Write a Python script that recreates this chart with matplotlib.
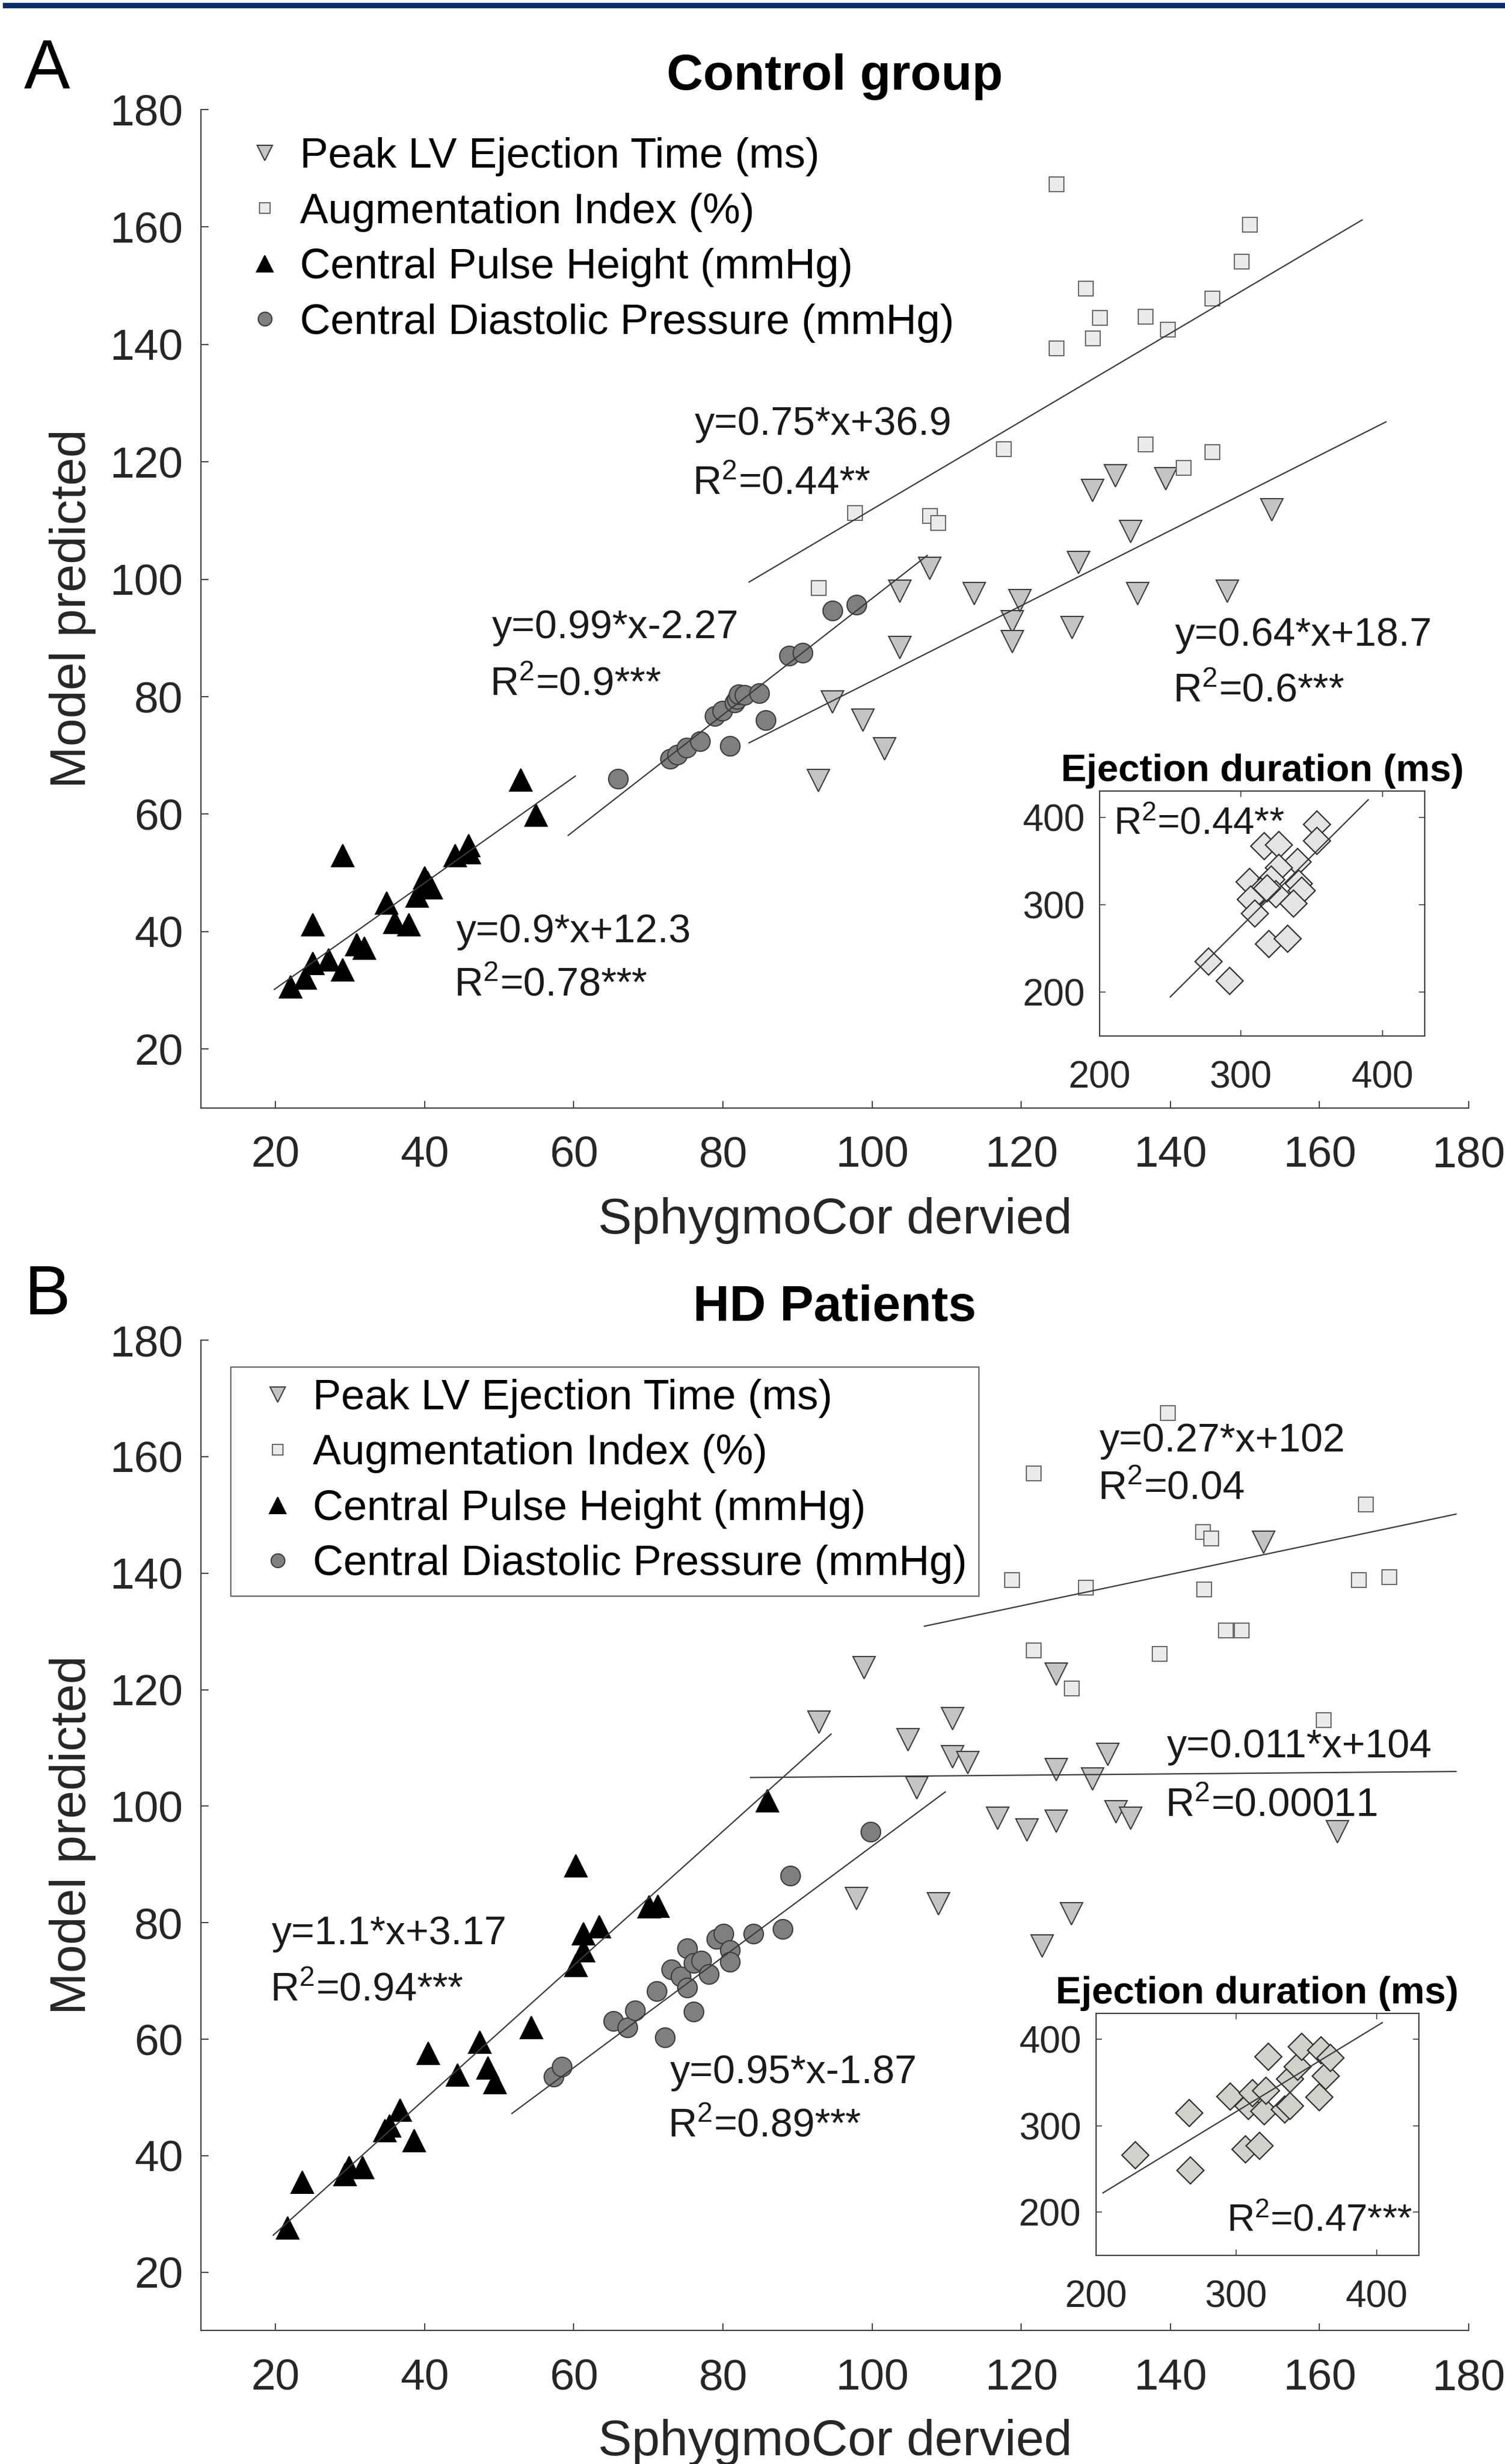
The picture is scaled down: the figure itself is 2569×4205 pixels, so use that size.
import numpy as np
import matplotlib.pyplot as plt
from matplotlib.patches import Rectangle

plt.rcParams['font.family'] = ['Liberation Sans', 'DejaVu Sans']
plt.rcParams['mathtext.fontset'] = 'custom'
plt.rcParams['mathtext.rm'] = 'Liberation Sans'
plt.rcParams['mathtext.it'] = 'Liberation Sans:italic'
plt.rcParams['mathtext.bf'] = 'Liberation Sans:bold'

# ---------------- Panel A : Control group ----------------
A_pulse_x = [22, 24, 25, 27.1, 29, 25, 29, 30.9, 31.9, 34.9, 36, 37.9, 39, 40, 40.9, 40.4, 44.1, 45.9, 46, 52.9, 54.9]
A_pulse_y = [30.6, 32.1, 34.6, 35.2, 33.5, 41.2, 53, 37.8, 37.2, 44.9, 41.6, 41.2, 46.1, 49.2, 47.5, 48.4, 53, 54.7, 53.5, 65.8, 59.8]

A_dia_x = [65.9, 72.9, 73.9, 75.1, 76.9, 78.9, 79.9, 80.9, 81.6, 81.9, 82.1, 82.9, 84.9, 85.7, 88.9, 90.7, 94.7, 97.9]
A_dia_y = [66, 69.4, 70.1, 71.3, 72.4, 76.7, 77.6, 71.6, 79, 79.6, 80.4, 80.3, 80.6, 76, 87, 87.5, 94.7, 95.7]

A_plvet_x = [92.8, 94.7, 98.8, 101.7, 103.7, 103.7, 107.7, 113.7, 118.8, 118.8, 119.8, 126.8, 127.7,
             129.6, 132.6, 134.7, 135.6, 139.4, 147.6, 153.6]
A_plvet_y = [65.7, 79.1, 76.0, 71.1, 88.4, 98.0, 101.8, 97.6, 92.8, 89.4, 96.4, 91.8, 102.8,
             115.1, 117.6, 108.1, 97.6, 117.1, 98.0, 111.8]

A_aix_x = [92.8, 97.7, 107.7, 108.8, 117.6, 124.7, 124.7, 128.6, 129.6, 130.5, 136.6, 136.6, 139.6,
           141.7, 145.6, 145.6, 149.5, 150.6]
A_aix_y = [98.6, 111.3, 110.8, 109.6, 122.2, 167.3, 139.4, 149.5, 141.1, 144.6, 144.8, 123.0, 142.6,
           119.0, 147.8, 121.7, 154.1, 160.4]

# fit lines: pulse, diastolic, PLVET, AIx
A_fit_slope = [0.9, 0.99, 0.64, 0.75]
A_fit_int = [12.3, -2.27, 18.7, 36.9]
A_fit_xmin = [19.85, 59.25, 83.5, 83.5]
A_fit_xmax = [60.2, 107.4, 168.9, 165.7]
A_eq_text = ['y=0.9*x+12.3', 'y=0.99*x-2.27', 'y=0.64*x+18.7', 'y=0.75*x+36.9']
A_r2_text = ['R$^2$=0.78***', 'R$^2$=0.9***', 'R$^2$=0.6***', 'R$^2$=0.44**']
A_eq_pos = [(44.2, 40.0), (49.0, 91.8), (140.6, 90.5), (76.2, 126.4)]
A_r2_pos = [(43.9, 30.9), (48.7, 82.0), (140.3, 80.9), (75.9, 116.3)]

# inset: ejection duration
A_ed_x = [353.6, 353.6, 316.5, 326.8, 340, 326.8, 306, 321.6, 341, 343, 314, 324.7, 307, 337, 310,
          319.6, 333, 277, 292, 318.6]
A_ed_y = [392, 373, 367, 368, 349, 342, 326, 329, 324, 316, 315, 312, 306, 301, 290,
          255, 261, 235, 213, 319]
A_ed_fit = [1.61, -208, 250, 390]
A_ed_r2 = 'R$^2$=0.44**'

# ---------------- Panel B : HD patients ----------------
B_pulse_x = [21.6, 23.6, 29.3, 29.9, 31.7, 34.7, 35.3, 36.7, 38.6, 40.5, 44.4, 47.4, 48.5, 49.4, 54.3,
             60.3, 60.3, 61.3, 61.3, 63.4, 70.1, 71.3, 86.0]
B_pulse_y = [27.6, 35.5, 36.8, 38.0, 38.0, 44.3, 45.1, 47.8, 42.6, 57.6, 53.9, 59.5, 55.1, 52.6, 62.0,
             89.8, 72.7, 75.2, 78.1, 79.3, 82.7, 82.8, 100.9]

B_dia_x = [57.3, 58.4, 65.3, 67.2, 68.2, 71.1, 72.2, 73.1, 74.3, 75.2, 75.2, 76.1, 76.1, 77.1, 78.1,
           79.1, 80.1, 80.9, 80.9, 84.1, 88.0, 89.0, 99.8]
B_dia_y = [53.6, 55.3, 63.1, 62.0, 64.9, 68.3, 60.3, 72.0, 70.8, 75.6, 68.9, 64.7, 73.1, 73.5, 71.2,
           77.2, 78.1, 75.3, 73.3, 78.1, 78.9, 88.1, 95.6]

B_plvet_x = [152.5, 124.7, 110.8, 110.8, 112.8, 106.0, 124.7, 129.6, 131.6, 116.8, 120.8, 124.7, 132.7,
             134.7, 162.4, 108.9, 126.7, 122.8, 98.9, 92.9, 104.8, 97.9]
B_plvet_y = [145.3, 122.7, 115.0, 108.5, 107.5, 103.2, 106.3, 104.7, 108.9, 97.9, 95.9, 97.4, 99.0,
             97.9, 95.6, 83.2, 81.5, 76.0, 123.8, 114.4, 111.4, 84.1]

B_aix_x = [139.6, 121.6, 166.2, 144.3, 145.4, 118.7, 128.6, 144.5, 165.2, 169.3, 147.4, 149.5, 121.6,
           138.5, 126.7, 160.5]
B_aix_y = [167.5, 157.2, 151.8, 147.1, 146.0, 138.9, 137.6, 137.3, 138.9, 139.4, 130.2, 130.2, 126.8,
           126.2, 120.3, 114.8]

B_fit_slope = [1.15, 0.95, 0.011, 0.27]
B_fit_int = [3.7, -1.87, 104, 102]
B_fit_xmin = [19.7, 51.7, 83.7, 107]
B_fit_xmax = [94.5, 109.8, 178.3, 178.3]
B_eq_text = ['y=1.1*x+3.17', 'y=0.95*x-1.87', 'y=0.011*x+104', 'y=0.27*x+102']
B_r2_text = ['R$^2$=0.94***', 'R$^2$=0.89***', 'R$^2$=0.00011', 'R$^2$=0.04']
B_eq_pos = [(19.5, 78.1), (72.9, 54.3), (139.5, 110.2), (130.5, 162.7)]
B_r2_pos = [(19.3, 68.4), (72.6, 45.1), (139.3, 100.1), (130.3, 154.5)]

B_ed_x = [228.2, 266.4, 267.1, 295.8, 306.5, 316.7, 308.8, 311.6, 319.7, 322.7, 321.3, 334.3, 338.2,
          338.2, 343.5, 346.8, 359, 360.2, 363.7, 367.1]
B_ed_y = [266.2, 314.8, 248.1, 333.8, 272.5, 276.6, 322.6, 337.7, 316.6, 379.7, 340.8, 318.7, 322.6,
          353.8, 368.1, 391.4, 333, 387.5, 357.7, 378.4]
B_ed_fit = [0.989, 19.7, 205, 404]
B_ed_r2 = 'R$^2$=0.47***'

labels = ['Peak LV Ejection Time (ms)', 'Augmentation Index (%)',
          'Central Pulse Height (mmHg)', 'Central Diastolic Pressure (mmHg)']

axis_col = '#404040'
line_col = '#3a3a3a'


def main_panel(ax, pulse, dia, plvet, aix, slope, icpt, xmin, xmax, eqs, r2s, eqpos, r2pos, title):
    h1, = ax.plot(plvet[0], plvet[1], ls='none', marker='v', ms=27, mfc='#c4c4c4', mec='#3c3c3c', mew=1.5)
    h2, = ax.plot(aix[0], aix[1], ls='none', marker='s', ms=18, mfc='#ebebeb', mec='#6a6a6a', mew=1.5)
    h3, = ax.plot(pulse[0], pulse[1], ls='none', marker='^', ms=28, mfc='black', mec='black', mew=1.5)
    h4, = ax.plot(dia[0], dia[1], ls='none', marker='o', ms=24, mfc='#7f7f7f', mec='#3c3c3c', mew=1.5)
    for k in range(4):
        xx = np.array([xmin[k], xmax[k]])
        ax.plot(xx, slope[k] * xx + icpt[k], color=line_col, lw=1.6, zorder=5)
        ax.text(eqpos[k][0], eqpos[k][1], eqs[k], fontsize=49, ha='left', va='center', color='#1a1a1a')
        ax.text(r2pos[k][0], r2pos[k][1], r2s[k], fontsize=49, ha='left', va='center', color='#1a1a1a')
    ax.set_xlim(10, 180)
    ax.set_ylim(10, 180)
    ax.set_xticks(np.arange(20, 181, 20))
    ax.set_yticks(np.arange(20, 181, 20))
    for s in ['top', 'right']:
        ax.spines[s].set_visible(False)
    for s in ['left', 'bottom']:
        ax.spines[s].set_color(axis_col)
        ax.spines[s].set_linewidth(1.6)
    ax.tick_params(axis='both', direction='in', length=9, width=1.4, color=axis_col,
                   labelsize=54, labelcolor='#262626')
    ax.tick_params(axis='x', pad=34)
    ax.tick_params(axis='y', pad=22)
    ax.set_xlabel('SphygmoCor dervied', fontsize=62, color='#262626')
    ax.set_ylabel('Model predicted', fontsize=62, color='#262626')
    ax.xaxis.set_label_coords(0.5, -0.113)
    ax.xaxis.label.set_va('center')
    ax.yaxis.set_label_coords(-0.101, 0.5)
    ax.yaxis.label.set_va('center')
    ax.set_title(title, fontsize=62, fontweight='bold', pad=24)
    return [h1, h2, h3, h4]


def inset_panel(ax, x, y, fit, r2, r2xy, face):
    ax.plot(x, y, ls='none', marker='D', ms=23, mfc=face, mec='#303030', mew=1.6)
    xx = np.array([fit[2], fit[3]])
    ax.plot(xx, fit[0] * xx + fit[1], color=line_col, lw=1.6, zorder=5)
    ax.text(r2xy[0], r2xy[1], r2, fontsize=47, ha='left', va='center', color='#1a1a1a')
    ax.set_xlim(200, 430)
    ax.set_ylim(150, 430)
    ax.set_xticks([200, 300, 400])
    ax.set_yticks([200, 300, 400])
    for s in ax.spines.values():
        s.set_color(axis_col)
        s.set_linewidth(1.6)
    ax.tick_params(axis='both', direction='in', length=7, width=1.2, color=axis_col,
                   top=True, right=True, labelsize=46, labelcolor='#262626')
    ax.tick_params(axis='x', pad=30)
    ax.tick_params(axis='y', pad=18)
    ax.set_title('Ejection duration (ms)', fontsize=47, fontweight='bold', pad=12)


fig = plt.figure(figsize=(25.69, 42.05), dpi=100)

# navy banner line at the top of the page crop
fig.patches.append(Rectangle((0.002, 0.9969), 0.998, 0.0019, transform=fig.transFigure,
                             color='#0c2c68', zorder=10))

leg_kw = dict(loc='upper left', fontsize=52, markerscale=0.7, handlelength=1.66,
              handletextpad=0.0, borderpad=0.28, labelspacing=0.38, borderaxespad=0)

axA = fig.add_axes([0.1335, 0.5504, 0.8424, 0.4052])
hA = main_panel(axA, (A_pulse_x, A_pulse_y), (A_dia_x, A_dia_y), (A_plvet_x, A_plvet_y),
                (A_aix_x, A_aix_y), A_fit_slope, A_fit_int, A_fit_xmin, A_fit_xmax,
                A_eq_text, A_r2_text, A_eq_pos, A_r2_pos, 'Control group')
axA.legend(hA, labels, bbox_to_anchor=(0.0135, 0.984), frameon=False, **leg_kw)

axB = fig.add_axes([0.1335, 0.0542, 0.8424, 0.4019])
hB = main_panel(axB, (B_pulse_x, B_pulse_y), (B_dia_x, B_dia_y), (B_plvet_x, B_plvet_y),
                (B_aix_x, B_aix_y), B_fit_slope, B_fit_int, B_fit_xmin, B_fit_xmax,
                B_eq_text, B_r2_text, B_eq_pos, B_r2_pos, 'HD Patients')
legB = axB.legend(hB, labels, bbox_to_anchor=(0.0235, 0.973), frameon=True, fancybox=False, **leg_kw)
legB.get_frame().set_edgecolor(axis_col)
legB.get_frame().set_linewidth(1.6)

insA = fig.add_axes([0.7306, 0.5796, 0.2161, 0.0994])
inset_panel(insA, A_ed_x, A_ed_y, A_ed_fit, A_ed_r2, (210, 392), '#e4e4e4')

insB = fig.add_axes([0.7282, 0.0846, 0.2145, 0.0983])
inset_panel(insB, B_ed_x, B_ed_y, B_ed_fit, B_ed_r2, (293, 190), '#d2d2ca')

fig.text(30 / 958, 1 - 45 / 1568, 'A', fontsize=85, ha='center', va='center')
fig.text(30 / 958, 1 - 825 / 1568, 'B', fontsize=85, ha='center', va='center')

fig.savefig('out.png', dpi=100)
